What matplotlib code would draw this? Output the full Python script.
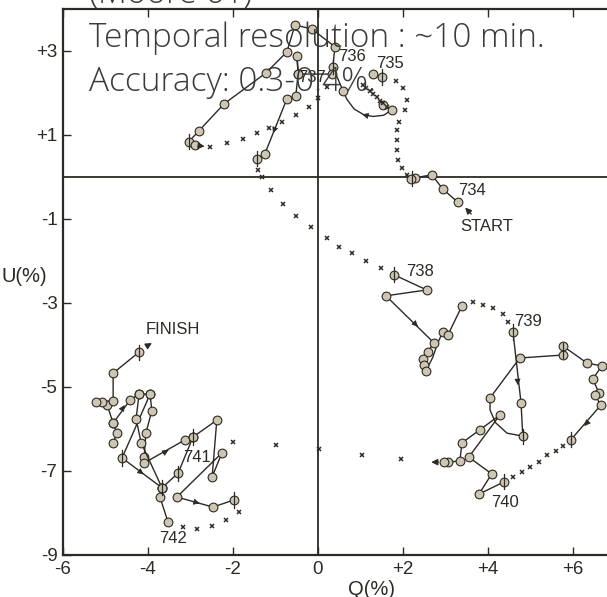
import matplotlib.pyplot as plt

# nightly tracks of (Q, U) in %, observed points joined by solid lines
track_734 = [(3.29, -0.60), (2.94, -0.29), (2.68, 0.05), (2.28, -0.02), (2.18, -0.06)]
track_735 = [(1.51, 2.38), (1.29, 2.45)]
track_735b = [(1.53, 1.71), (1.74, 1.60)]
track_736 = [(0.59, 2.05), (0.35, 2.62), (0.40, 3.10), (-0.14, 3.52), (-0.54, 3.62),
             (-0.73, 2.98), (-1.22, 2.48), (-2.21, 1.74), (-2.80, 1.10), (-3.04, 0.84),
             (-2.89, 0.76)]
track_737 = [(0.33, 2.45), (-0.47, 2.45), (-0.49, 2.88), (-0.47, 2.45), (-0.52, 1.93),
             (-0.73, 1.86), (-1.25, 0.55), (-1.44, 0.43)]
track_738 = [(1.79, -2.33), (2.56, -2.69), (1.60, -2.83), (2.73, -3.95), (2.58, -4.17),
             (2.47, -4.33), (2.49, -4.48), (2.54, -4.62)]
track_738b = [(2.94, -3.69), (3.06, -3.76), (3.39, -3.07)]
track_739 = [(4.59, -3.69), (4.78, -5.38), (4.82, -6.17)]
track_739b = [(4.05, -5.26), (4.75, -4.31), (5.76, -4.24), (5.76, -4.02), (6.33, -4.43),
              (6.68, -4.50), (6.47, -4.81), (6.61, -5.14), (6.52, -5.20), (6.66, -5.43),
              (5.95, -6.26)]
track_740 = [(4.38, -7.26), (3.79, -7.55), (4.09, -7.07), (3.55, -6.67), (4.28, -5.67),
             (3.81, -6.02), (3.39, -6.33), (3.34, -6.76), (3.06, -6.79), (2.96, -6.79)]
track_741 = [(-3.95, -5.17), (-3.91, -5.57), (-4.05, -6.10), (-4.09, -6.67), (-4.09, -6.81),
             (-3.13, -6.26), (-2.94, -6.19), (-2.38, -5.79), (-2.49, -7.14), (-2.26, -6.57),
             (-3.32, -7.62), (-2.47, -7.86), (-1.98, -7.69)]
track_742 = [(-3.53, -8.21), (-3.72, -7.62), (-3.67, -7.40), (-4.61, -6.69), (-3.95, -5.17),
             (-4.21, -5.17), (-4.42, -5.31), (-4.82, -5.86), (-4.73, -6.10), (-4.82, -6.33)]
track_742b = [(-4.21, -5.17), (-4.28, -5.76), (-4.16, -6.33), (-3.67, -7.40)]
track_742c = [(-2.94, -6.19), (-3.29, -7.05), (-3.67, -7.40)]
track_742d = [(-4.82, -5.86), (-4.96, -5.43), (-5.08, -5.36), (-5.22, -5.36), (-4.82, -5.33),
              (-4.82, -4.67), (-4.21, -4.17)]

# smooth connecting curves (no points on them)
curve_735 = [(1.74, 1.60), (1.55, 1.47), (1.30, 1.44), (1.08, 1.48), (0.85, 1.62),
             (0.68, 1.85), (0.59, 2.05)]
curve_738 = [(2.54, -4.62), (2.70, -4.30), (2.82, -3.95), (2.94, -3.69)]
curve_739 = [(4.82, -6.17), (4.45, -6.10), (4.18, -5.85), (4.05, -5.55), (4.05, -5.26)]

# gaps between nights, drawn as crosses
gap_734 = [(2.09, 0.05), (1.97, 0.21), (1.89, 0.40), (1.86, 0.64), (1.86, 0.88), (1.86, 1.12),
           (1.91, 1.31), (2.05, 1.60), (2.09, 1.83), (2.00, 2.12), (1.84, 2.29)]
gap_735 = [(1.06, 2.19), (1.14, 2.12), (1.22, 2.04), (1.30, 1.97), (1.38, 1.90), (1.46, 1.82),
           (1.54, 1.75), (1.62, 1.67)]
gap_736 = [(-2.54, 0.72), (-2.14, 0.81), (-1.76, 0.90), (-1.44, 1.05), (-1.15, 1.17),
           (-0.85, 1.31), (-0.52, 1.48), (-0.21, 1.67), (0.00, 1.88), (0.21, 2.14)]
gap_737 = [(-1.41, 0.17), (-1.32, 0.00), (-1.11, -0.31), (-0.82, -0.64), (-0.52, -0.93),
           (-0.16, -1.19), (0.21, -1.45), (0.49, -1.67), (0.80, -1.81), (1.13, -2.00),
           (1.48, -2.17)]
gap_738 = [(3.65, -2.98), (3.88, -3.05), (4.12, -3.12), (4.35, -3.26), (4.47, -3.45)]
gap_739 = [(5.76, -6.40), (5.60, -6.52), (5.39, -6.62), (5.20, -6.79), (4.99, -6.90),
           (4.80, -7.02), (4.59, -7.14)]
gap_740 = [(1.95, -6.71), (1.04, -6.62), (0.03, -6.48), (-0.99, -6.38), (-2.00, -6.31)]
gap_741 = [(-1.86, -7.98), (-2.16, -8.17), (-2.49, -8.31), (-2.85, -8.38), (-3.18, -8.33)]

# points carrying a vertical error bar
err_pts = [(2.22, -0.04), (1.51, 2.38), (0.35, 2.62), (-3.04, 0.84), (-1.44, 0.43),
           (1.79, -2.33), (4.59, -3.69), (4.82, -6.17), (5.76, -4.13), (5.95, -6.26),
           (4.38, -7.26), (-4.21, -4.17), (-4.61, -6.69), (-2.94, -6.19), (-3.29, -7.05),
           (-3.67, -7.40), (-1.98, -7.69)]

# direction arrows on the tracks: (from, to)
small_arrows = [((1.15, 1.46), (0.98, 1.51)), ((-1.02, 1.14), (-1.08, 0.98)),
                ((2.29, -3.50), (2.40, -3.61)), ((4.70, -4.86), (4.71, -5.02)),
                ((6.33, -5.86), (6.23, -5.98)), ((-3.58, -6.54), (-3.46, -6.47)),
                ((-4.18, -7.02), (-4.05, -7.12)), ((-2.86, -7.75), (-2.72, -7.79)),
                ((-4.61, -5.53), (-4.55, -5.43))]
long_arrows = [((3.65, -0.93), (3.42, -0.68)), ((-4.07, -4.05), (-3.85, -3.92)),
               ((2.90, -6.79), (2.60, -6.79)), ((-2.85, 0.75), (-2.60, 0.72))]

labels = [("734", 3.62, -0.33), ("735", 1.69, 2.69), ("736", 0.80, 2.86), ("737", -0.14, 2.36),
          ("738", 2.40, -2.26), ("739", 4.94, -3.43), ("740", 4.40, -7.74),
          ("741", -2.85, -6.67), ("742", -3.41, -8.60), ("START", 3.97, -1.19),
          ("FINISH", -3.41, -3.64)]

x_ticks = [-6, -4, -2, 0, 2, 4, 6]
x_ticklabels = ["-6", "-4", "-2", "0", "+2", "+4", "+6"]
y_ticks = [3, 1, -1, -3, -5, -7, -9]
y_ticklabels = ["+3", "+1", "-1", "-3", "-5", "-7", "-9"]

ink = "#2c2a24"
fill = "#cdc6b2"

fig = plt.figure(figsize=(6.07, 5.97), dpi=100)
ax = fig.add_axes([0.1038, 0.0704, 0.910, 0.9146])
ax.set_xlim(-6, 7)
ax.set_ylim(-9, 4)

ax.axhline(0, color=ink, lw=1.3, zorder=1)
ax.axvline(0, color=ink, lw=1.3, zorder=1)

for tr in [track_734, track_735, track_735b, track_736, track_737, track_738, track_738b,
           track_739, track_739b, track_740, track_741, track_742, track_742b, track_742c,
           track_742d]:
    ax.plot([p[0] for p in tr], [p[1] for p in tr], color=ink, lw=1.0, marker="o", ms=6.3,
            mfc=fill, mec=ink, mew=0.8, zorder=3)

for cv in [curve_735, curve_738, curve_739]:
    ax.plot([p[0] for p in cv], [p[1] for p in cv], color=ink, lw=1.0, zorder=2)

for gp in [gap_734, gap_735, gap_736, gap_737, gap_738, gap_739, gap_740, gap_741]:
    ax.plot([p[0] for p in gp], [p[1] for p in gp], ls="none", marker="x", ms=3.4,
            mew=1.1, color=ink, zorder=3)

for q, u in err_pts:
    ax.plot([q, q], [u - 0.18, u + 0.18], color=ink, lw=0.9, zorder=4)

for a, b in small_arrows:
    ax.annotate("", xy=b, xytext=a,
                arrowprops=dict(arrowstyle="-|>", color=ink, lw=0.6, mutation_scale=9))
for a, b in long_arrows:
    ax.annotate("", xy=b, xytext=a,
                arrowprops=dict(arrowstyle="-|>", color=ink, lw=1.0, mutation_scale=9))

for txt, q, u in labels:
    ax.text(q, u, txt, fontsize=12, color=ink, ha="center", va="center", family="Liberation Sans")

ax.set_xticks(x_ticks)
ax.set_xticklabels(x_ticklabels)
ax.set_yticks(y_ticks)
ax.set_yticklabels(y_ticklabels)
ax.tick_params(direction="in", length=6, width=1.0, colors=ink, labelsize=13.5,
               top=True, right=True, pad=4)
for lab in ax.get_xticklabels() + ax.get_yticklabels():
    lab.set_family("Liberation Sans")
for s in ax.spines.values():
    s.set_color(ink)
    s.set_linewidth(1.6)

ax.set_xlabel("Q(%)", fontsize=14.5, color=ink, family="Liberation Sans")
ax.xaxis.set_label_coords(0.5585, -0.045)
ax.set_ylabel("U(%)", fontsize=14.5, color=ink, family="Liberation Sans", rotation=0,
              va="center", ha="center")
ax.yaxis.set_label_coords(-0.07, 0.51)

# overlay annotation text
grey = "#3a3a3a"
fig.text(0.147, 0.921, "Temporal resolution : ~10 min.", fontsize=24, color=grey,
         family="Open Sans", weight="light")
fig.text(0.147, 0.848, "Accuracy: 0.3-0.4%.", fontsize=24, color=grey,
         family="Open Sans", weight="light")
fig.text(0.147, 0.995, "(Moore 61)", fontsize=24, color=grey, family="Open Sans",
         weight="light")

fig.savefig("out.png", dpi=100)
